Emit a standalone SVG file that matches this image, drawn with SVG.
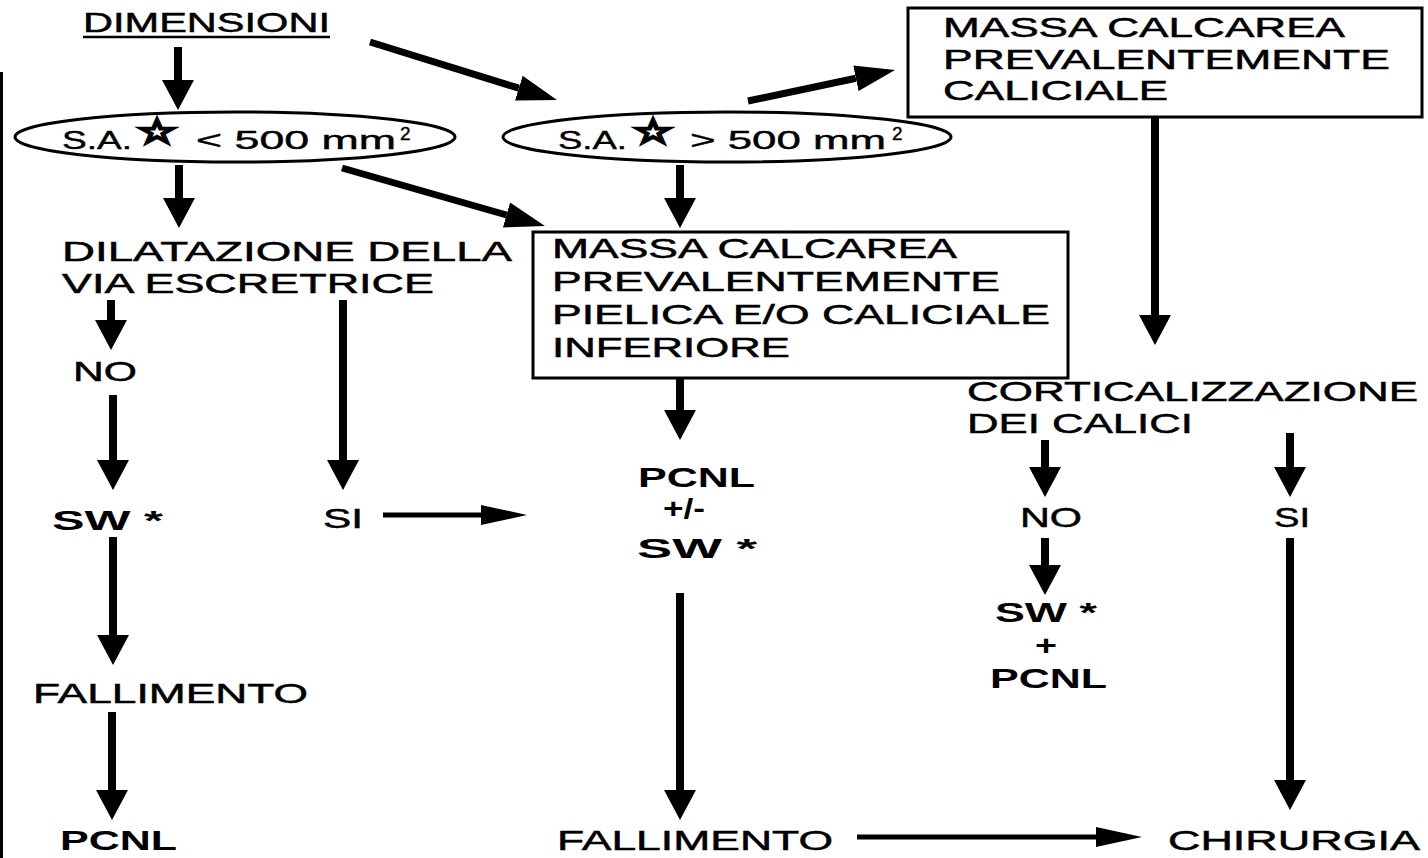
<svg xmlns="http://www.w3.org/2000/svg" width="1428" height="858" viewBox="0 0 1428 858">
  <style>
    text { font-family: "Liberation Sans", Arial, sans-serif; fill: #000; }
    .lbl { font-size: 28px; stroke: #000; stroke-width: 0.5px; }
    .b { font-size: 27px; font-weight: bold; }
    .oval { font-size: 25px; stroke: #000; stroke-width: 0.4px; }
    .sup { font-size: 19px; }
    .star { font-family: "DejaVu Sans", sans-serif; font-size: 33px; stroke: #000; stroke-width: 2.8px; }
    .box { fill: #fff; stroke: #000; stroke-width: 3; }
    .ell { fill: #fff; stroke: #000; stroke-width: 3; }
    .arr { stroke: #000; stroke-width: 8; fill: none; marker-end: url(#head); }
    .arrd { stroke: #000; stroke-width: 7; fill: none; marker-end: url(#headDiag); }
    .arrt { stroke: #000; stroke-width: 5; fill: none; marker-end: url(#headThin); }
  </style>
  <defs>
    <marker id="head" viewBox="0 0 30 32" refX="0" refY="16" markerWidth="30" markerHeight="32" markerUnits="userSpaceOnUse" orient="auto">
      <path d="M0,0 L30,16 L0,32 z" fill="#000"/>
    </marker>
    <marker id="headDiag" viewBox="0 0 40 26" refX="0" refY="13" markerWidth="40" markerHeight="26" markerUnits="userSpaceOnUse" orient="auto">
      <path d="M0,0 L40,13 L0,26 z" fill="#000"/>
    </marker>
    <marker id="headThin" viewBox="0 0 46 20" refX="0" refY="10" markerWidth="46" markerHeight="20" markerUnits="userSpaceOnUse" orient="auto">
      <path d="M0,0 L46,10 L0,20 z" fill="#000"/>
    </marker>
  </defs>

  <rect width="1428" height="858" fill="#fff"/>
  <!-- page edge rule on the left -->
  <rect x="0" y="72" width="3" height="786" fill="#000"/>

  <g id="connectors">
    <line class="arr" x1="178" y1="47" x2="178" y2="80"/>
    <line class="arrd" x1="370" y1="42" x2="518.8" y2="88.2"/>
    <line class="arrd" x1="748" y1="101" x2="855.9" y2="78.3"/>
    <line class="arr" x1="1155" y1="117" x2="1155" y2="315"/>
    <line class="arr" x1="179" y1="165" x2="179" y2="198"/>
    <line class="arrd" x1="342" y1="168" x2="506.5" y2="215"/>
    <line class="arr" x1="680" y1="165" x2="680" y2="198"/>
    <line class="arr" x1="111" y1="300" x2="111" y2="320"/>
    <line class="arr" x1="113" y1="395" x2="113" y2="460"/>
    <line class="arr" x1="343" y1="300" x2="343" y2="460"/>
    <line class="arrt" x1="383" y1="515" x2="481" y2="515"/>
    <line class="arr" x1="680" y1="378" x2="680" y2="410"/>
    <line class="arr" x1="1045" y1="440" x2="1045" y2="467"/>
    <line class="arr" x1="1290" y1="433" x2="1290" y2="467"/>
    <line class="arr" x1="1045" y1="538" x2="1045" y2="565"/>
    <line class="arr" x1="1290" y1="538" x2="1290" y2="780"/>
    <line class="arr" x1="113" y1="537" x2="113" y2="635"/>
    <line class="arr" x1="112" y1="712" x2="112" y2="790"/>
    <line class="arr" x1="680" y1="593" x2="680" y2="790"/>
    <line class="arrt" x1="857" y1="837" x2="1096" y2="837"/>
  </g>

  <g id="dimensioni">
    <text class="lbl" x="83" y="32" textLength="247" lengthAdjust="spacingAndGlyphs">DIMENSIONI</text>
    <line x1="83" y1="37" x2="330" y2="37" stroke="#000" stroke-width="2.5"/>
  </g>

  <g id="sa-small">
    <ellipse class="ell" cx="235" cy="137" rx="220" ry="25"/>
    <text class="oval" x="62" y="149" textLength="70" lengthAdjust="spacingAndGlyphs">S.A.</text>
    <text class="star" x="137" y="143" textLength="40" lengthAdjust="spacingAndGlyphs">☆</text>
    <text class="oval" x="196" y="149">
      <tspan textLength="200" lengthAdjust="spacingAndGlyphs">&lt; 500 mm</tspan><tspan class="sup" dx="4" dy="-9">2</tspan>
    </text>
  </g>

  <g id="sa-large">
    <ellipse class="ell" cx="727" cy="137" rx="224" ry="25"/>
    <text class="oval" x="558" y="149" textLength="69" lengthAdjust="spacingAndGlyphs">S.A.</text>
    <text class="star" x="633" y="143" textLength="40" lengthAdjust="spacingAndGlyphs">☆</text>
    <text class="oval" x="690" y="149">
      <tspan textLength="196" lengthAdjust="spacingAndGlyphs">&gt; 500 mm</tspan><tspan class="sup" dx="6" dy="-9">2</tspan>
    </text>
  </g>

  <g id="massa-caliciale">
    <rect class="box" x="908" y="8" width="514" height="109"/>
    <text class="lbl" x="943" y="37" textLength="402" lengthAdjust="spacingAndGlyphs">MASSA CALCAREA</text>
    <text class="lbl" x="943" y="69" textLength="447" lengthAdjust="spacingAndGlyphs">PREVALENTEMENTE</text>
    <text class="lbl" x="943" y="100" textLength="225" lengthAdjust="spacingAndGlyphs">CALICIALE</text>
  </g>

  <g id="massa-pielica">
    <rect class="box" x="533" y="232" width="535" height="146"/>
    <text class="lbl" x="552" y="258" textLength="405" lengthAdjust="spacingAndGlyphs">MASSA CALCAREA</text>
    <text class="lbl" x="552" y="291" textLength="448" lengthAdjust="spacingAndGlyphs">PREVALENTEMENTE</text>
    <text class="lbl" x="552" y="324" textLength="498" lengthAdjust="spacingAndGlyphs">PIELICA E/O CALICIALE</text>
    <text class="lbl" x="552" y="357" textLength="238" lengthAdjust="spacingAndGlyphs">INFERIORE</text>
  </g>

  <g id="dilatazione">
    <text class="lbl" x="62" y="261" textLength="450" lengthAdjust="spacingAndGlyphs">DILATAZIONE DELLA</text>
    <text class="lbl" x="62" y="293" textLength="372" lengthAdjust="spacingAndGlyphs">VIA ESCRETRICE</text>
  </g>

  <g id="dil-no">
    <text class="lbl" x="73" y="381" textLength="64" lengthAdjust="spacingAndGlyphs">NO</text>
  </g>
  <g id="dil-si">
    <text class="lbl" x="323" y="528" textLength="40" lengthAdjust="spacingAndGlyphs">SI</text>
  </g>
  <g id="sw-left">
    <text class="b" x="52" y="530" textLength="111" lengthAdjust="spacingAndGlyphs">SW *</text>
  </g>
  <g id="fallimento-left">
    <text class="lbl" x="33" y="703" textLength="275" lengthAdjust="spacingAndGlyphs">FALLIMENTO</text>
  </g>
  <g id="pcnl-left">
    <text class="b" x="60" y="850" textLength="117" lengthAdjust="spacingAndGlyphs">PCNL</text>
  </g>

  <g id="pcnl-sw">
    <text class="b" x="638" y="487" textLength="117" lengthAdjust="spacingAndGlyphs">PCNL</text>
    <text class="b" x="663" y="518" font-size="21" textLength="42" lengthAdjust="spacingAndGlyphs">+/-</text>
    <text class="b" x="637" y="558" textLength="120" lengthAdjust="spacingAndGlyphs">SW *</text>
  </g>
  <g id="fallimento-mid">
    <text class="lbl" x="557" y="850" textLength="276" lengthAdjust="spacingAndGlyphs">FALLIMENTO</text>
  </g>

  <g id="corticalizzazione">
    <text class="lbl" x="967" y="401" textLength="451" lengthAdjust="spacingAndGlyphs">CORTICALIZZAZIONE</text>
    <text class="lbl" x="967" y="433" textLength="226" lengthAdjust="spacingAndGlyphs">DEI CALICI</text>
  </g>
  <g id="cort-no">
    <text class="lbl" x="1020" y="527" textLength="62" lengthAdjust="spacingAndGlyphs">NO</text>
  </g>
  <g id="cort-si">
    <text class="lbl" x="1274" y="527" textLength="36" lengthAdjust="spacingAndGlyphs">SI</text>
  </g>
  <g id="sw-pcnl">
    <text class="b" x="995" y="622" textLength="102" lengthAdjust="spacingAndGlyphs">SW *</text>
    <text class="b" x="1035" y="655" font-size="24" textLength="22" lengthAdjust="spacingAndGlyphs">+</text>
    <text class="b" x="990" y="688" textLength="117" lengthAdjust="spacingAndGlyphs">PCNL</text>
  </g>
  <g id="chirurgia">
    <text class="lbl" x="1168" y="850" textLength="252" lengthAdjust="spacingAndGlyphs">CHIRURGIA</text>
  </g>
</svg>
